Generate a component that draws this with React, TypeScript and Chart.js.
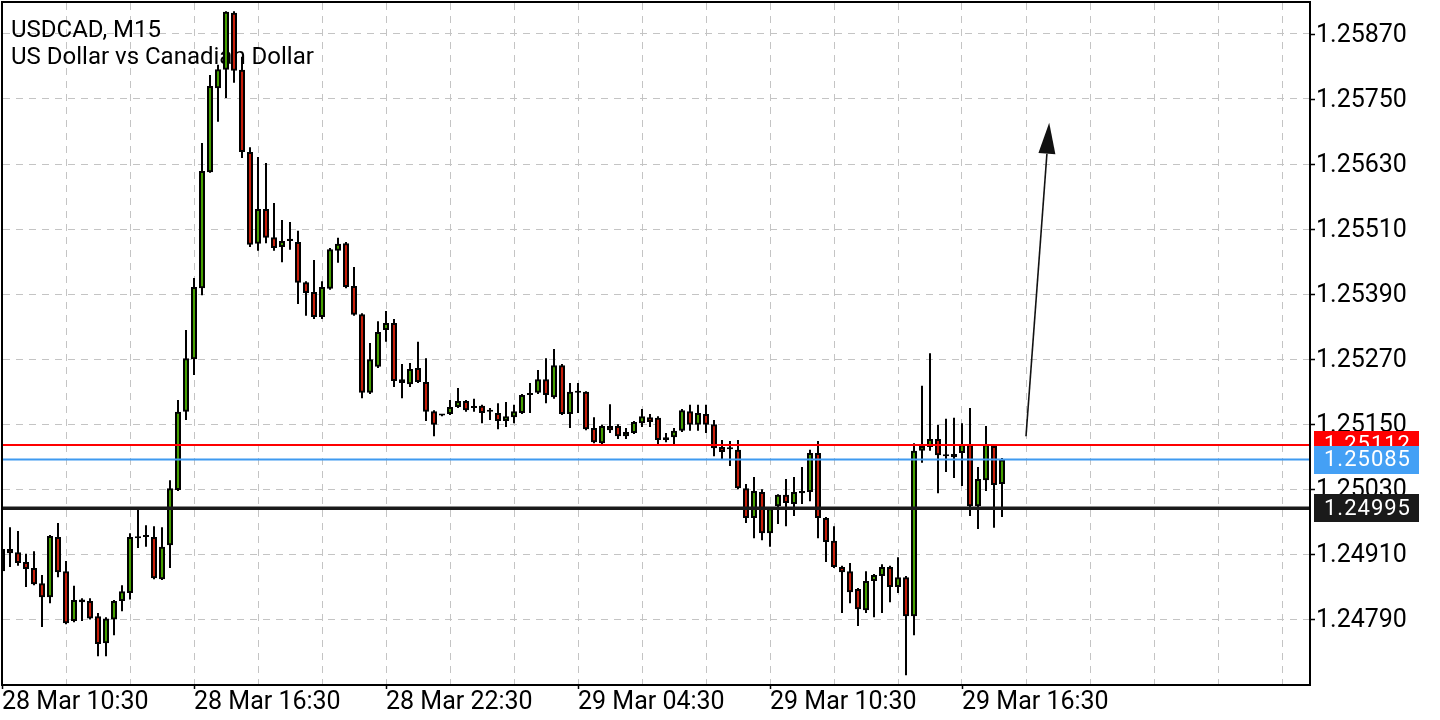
import React, { useEffect, useRef } from 'react';
import { Chart, registerables } from 'chart.js';

Chart.register(...registerables);

// ---- text ----
const symbolTitle = 'USDCAD, M15';
const symbolDesc = 'US Dollar vs Canadian Dollar';

// ---- M15 candles (bar index 0 = 28 Mar 10:30) ----
const opens = [
  1.24879, 1.24920, 1.24914, 1.24896, 1.24885, 1.24857, 1.24831, 1.24942, 1.24879, 1.24787,
  1.24827, 1.24824, 1.24796, 1.24746, 1.24790, 1.24824, 1.24839, 1.24942, 1.24942, 1.24942,
  1.24864, 1.24927, 1.25029, 1.25173, 1.25270, 1.25401, 1.25615, 1.25770, 1.25804, 1.25909,
  1.25804, 1.25652, 1.25483, 1.25547, 1.25495, 1.25477, 1.25492, 1.25486, 1.25412, 1.25394,
  1.25348, 1.25400, 1.25470, 1.25484, 1.25405, 1.25353, 1.25208, 1.25256, 1.25324, 1.25337,
  1.25233, 1.25224, 1.25254, 1.25228, 1.25174, 1.25168, 1.25169, 1.25182, 1.25193, 1.25182,
  1.25184, 1.25174, 1.25171, 1.25156, 1.25163, 1.25171, 1.25206, 1.25208, 1.25233, 1.25200,
  1.25259, 1.25169, 1.25210, 1.25210, 1.25143, 1.25115, 1.25147, 1.25147, 1.25128, 1.25134,
  1.25152, 1.25163, 1.25162, 1.25126, 1.25126, 1.25138, 1.25174, 1.25149, 1.25169, 1.25150,
  1.25108, 1.25106, 1.25103, 1.25032, 1.24977, 1.25025, 1.24949, 1.24999, 1.25020, 1.25003,
  1.25027, 1.25025, 1.25097, 1.24977, 1.24935, 1.24887, 1.24879, 1.24846, 1.24807, 1.24861,
  1.24870, 1.24887, 1.24850, 1.24868, 1.24796, 1.25101, 1.25108, 1.25123, 1.25093, 1.25089,
  1.25097, 1.25113, 1.24999, 1.25047, 1.25110, 1.25040,
];
const highs = [
  1.24925, 1.24960, 1.24953, 1.24911, 1.24916, 1.24872, 1.24946, 1.24968, 1.24898, 1.24852,
  1.24829, 1.24829, 1.24802, 1.24794, 1.24826, 1.24853, 1.24949, 1.24992, 1.24964, 1.24962,
  1.24960, 1.25047, 1.25195, 1.25324, 1.25420, 1.25669, 1.25794, 1.25813, 1.25912, 1.25912,
  1.25828, 1.25661, 1.25643, 1.25632, 1.25558, 1.25527, 1.25523, 1.25507, 1.25414, 1.25453,
  1.25414, 1.25475, 1.25494, 1.25486, 1.25440, 1.25355, 1.25300, 1.25340, 1.25359, 1.25344,
  1.25261, 1.25263, 1.25302, 1.25272, 1.25176, 1.25169, 1.25195, 1.25217, 1.25195, 1.25197,
  1.25186, 1.25180, 1.25189, 1.25191, 1.25186, 1.25206, 1.25226, 1.25250, 1.25272, 1.25289,
  1.25261, 1.25226, 1.25226, 1.25211, 1.25163, 1.25149, 1.25187, 1.25150, 1.25143, 1.25156,
  1.25178, 1.25169, 1.25165, 1.25134, 1.25143, 1.25178, 1.25186, 1.25186, 1.25186, 1.25158,
  1.25121, 1.25119, 1.25121, 1.25040, 1.25053, 1.25030, 1.24997, 1.25021, 1.25049, 1.25053,
  1.25071, 1.25103, 1.25119, 1.24979, 1.24962, 1.24889, 1.24894, 1.24848, 1.24879, 1.24874,
  1.24892, 1.24889, 1.24905, 1.24870, 1.25115, 1.25221, 1.25281, 1.25149, 1.25160, 1.25162,
  1.25152, 1.25180, 1.25071, 1.25147, 1.25112, 1.25088,
];
const lows = [
  1.24874, 1.24887, 1.24889, 1.24850, 1.24853, 1.24776, 1.24820, 1.24868, 1.24781, 1.24785,
  1.24787, 1.24790, 1.24722, 1.24722, 1.24761, 1.24805, 1.24827, 1.24922, 1.24924, 1.24864,
  1.24863, 1.24885, 1.25027, 1.25158, 1.25241, 1.25388, 1.25614, 1.25708, 1.25752, 1.25780,
  1.25641, 1.25477, 1.25470, 1.25484, 1.25470, 1.25449, 1.25472, 1.25372, 1.25350, 1.25344,
  1.25344, 1.25398, 1.25448, 1.25401, 1.25350, 1.25198, 1.25206, 1.25254, 1.25302, 1.25219,
  1.25198, 1.25219, 1.25226, 1.25156, 1.25128, 1.25165, 1.25167, 1.25180, 1.25173, 1.25173,
  1.25152, 1.25158, 1.25141, 1.25145, 1.25152, 1.25169, 1.25171, 1.25206, 1.25189, 1.25197,
  1.25167, 1.25143, 1.25171, 1.25139, 1.25115, 1.25113, 1.25134, 1.25123, 1.25123, 1.25132,
  1.25145, 1.25145, 1.25112, 1.25117, 1.25112, 1.25136, 1.25138, 1.25138, 1.25134, 1.25091,
  1.25086, 1.25073, 1.25030, 1.24968, 1.24940, 1.24936, 1.24924, 1.24966, 1.24962, 1.24981,
  1.25003, 1.25008, 1.24940, 1.24896, 1.24885, 1.24802, 1.24820, 1.24778, 1.24802, 1.24794,
  1.24802, 1.24822, 1.24839, 1.24687, 1.24761, 1.25079, 1.25101, 1.25023, 1.25062, 1.25051,
  1.25036, 1.24981, 1.24957, 1.25027, 1.24959, 1.24979,
];
const closes = [
  1.24920, 1.24912, 1.24894, 1.24883, 1.24855, 1.24831, 1.24944, 1.24877, 1.24783, 1.24826,
  1.24822, 1.24792, 1.24745, 1.24792, 1.24824, 1.24842, 1.24942, 1.24940, 1.24942, 1.24866,
  1.24924, 1.25032, 1.25173, 1.25272, 1.25403, 1.25617, 1.25774, 1.25805, 1.25911, 1.25802,
  1.25652, 1.25481, 1.25547, 1.25494, 1.25475, 1.25488, 1.25488, 1.25411, 1.25392, 1.25348,
  1.25403, 1.25473, 1.25483, 1.25403, 1.25352, 1.25208, 1.25270, 1.25320, 1.25337, 1.25230,
  1.25226, 1.25252, 1.25228, 1.25173, 1.25149, 1.25166, 1.25182, 1.25193, 1.25176, 1.25180,
  1.25171, 1.25173, 1.25156, 1.25165, 1.25174, 1.25204, 1.25204, 1.25233, 1.25204, 1.25259,
  1.25169, 1.25210, 1.25208, 1.25141, 1.25117, 1.25147, 1.25139, 1.25128, 1.25136, 1.25154,
  1.25165, 1.25154, 1.25121, 1.25121, 1.25138, 1.25176, 1.25149, 1.25171, 1.25149, 1.25106,
  1.25099, 1.25104, 1.25032, 1.24977, 1.25027, 1.24949, 1.24995, 1.25020, 1.25005, 1.25025,
  1.25023, 1.25097, 1.24977, 1.24933, 1.24887, 1.24877, 1.24840, 1.24809, 1.24861, 1.24872,
  1.24887, 1.24850, 1.24868, 1.24796, 1.25101, 1.25110, 1.25123, 1.25093, 1.25091, 1.25095,
  1.25113, 1.24999, 1.25049, 1.25113, 1.25038, 1.25085,
];

// ---- axes ----
const priceTicks = [1.24790, 1.24910, 1.25030, 1.25150, 1.25270, 1.25390, 1.25510, 1.25630, 1.25750, 1.25870];
const timeTickIdx = [0, 24, 48, 72, 96, 120];
const timeTickLabels = ['28 Mar 10:30', '28 Mar 16:30', '28 Mar 22:30', '29 Mar 04:30', '29 Mar 10:30', '29 Mar 16:30'];
const gridStepBars = 8;

// ---- price levels ----
const askPrice = 1.25112;
const bidPrice = 1.25085;
const levelPrice = 1.24995;

// ---- arrow annotation (bar index, price) ----
const arrowFrom = [128, 1.25128];
const arrowTo = [130.9, 1.25706];

// ---- view ----
const X_MIN = 0.125;
const X_MAX = 163.375;
const Y_MIN = 1.24671;
const Y_MAX = 1.25927;

const GREEN = '#46a000';
const RED = '#c81e0a';
const GRID = '#c4c4c4';
const FONT = 'Roboto';

const overlayPlugin = {
  id: 'mtOverlay',
  beforeDatasetsDraw(chart: any) {
    const { ctx, chartArea } = chart;
    ctx.save();
    ctx.fillStyle = '#000';
    ctx.font = `24px ${FONT}`;
    ctx.textAlign = 'left';
    ctx.textBaseline = 'alphabetic';
    ctx.fillText(symbolTitle, chartArea.left + 8, chartArea.top + 34);
    ctx.fillText(symbolDesc, chartArea.left + 8, chartArea.top + 61);
    ctx.restore();
  },
  afterDatasetsDraw(chart: any) {
    const { ctx, chartArea } = chart;
    const xs = chart.scales.x;
    const ys = chart.scales.y;
    const { left, right, top, bottom } = chartArea;
    ctx.save();
    const hline = (p: number, color: string, w: number) => {
      const y = ys.getPixelForValue(p);
      ctx.beginPath();
      ctx.strokeStyle = color;
      ctx.lineWidth = w;
      ctx.moveTo(left, y);
      ctx.lineTo(right, y);
      ctx.stroke();
    };
    hline(askPrice, '#ff0000', 2);
    hline(bidPrice, '#3f9af0', 2);
    hline(levelPrice, '#1a1a1a', 3.5);

    const x1 = xs.getPixelForValue(arrowFrom[0]);
    const y1 = ys.getPixelForValue(arrowFrom[1]);
    const x2 = xs.getPixelForValue(arrowTo[0]);
    const y2 = ys.getPixelForValue(arrowTo[1]);
    const ang = Math.atan2(y2 - y1, x2 - x1);
    const headLen = 31;
    const headW = 8.5;
    const bx = x2 - headLen * Math.cos(ang);
    const by = y2 - headLen * Math.sin(ang);
    ctx.strokeStyle = '#111';
    ctx.fillStyle = '#111';
    ctx.lineWidth = 1.6;
    ctx.beginPath();
    ctx.moveTo(x1, y1);
    ctx.lineTo(bx, by);
    ctx.stroke();
    ctx.beginPath();
    ctx.moveTo(x2, y2);
    ctx.lineTo(bx + headW * Math.sin(ang), by - headW * Math.cos(ang));
    ctx.lineTo(bx - headW * Math.sin(ang), by + headW * Math.cos(ang));
    ctx.closePath();
    ctx.fill();

    ctx.strokeStyle = '#000';
    ctx.lineWidth = 2;
    ctx.strokeRect(left - 1, top - 1, right - left + 2, bottom - top + 2);

    ctx.lineWidth = 1.5;
    ctx.beginPath();
    priceTicks.forEach((p) => {
      const y = Math.round(ys.getPixelForValue(p)) + 0.5;
      ctx.moveTo(right + 1, y);
      ctx.lineTo(right + 6, y);
    });
    timeTickIdx.forEach((i) => {
      const x = Math.round(xs.getPixelForValue(i)) + 0.5;
      ctx.moveTo(x, bottom + 1);
      ctx.lineTo(x, bottom + 5);
    });
    ctx.stroke();
    ctx.restore();
  },
  afterDraw(chart: any) {
    const { ctx, chartArea } = chart;
    const ys = chart.scales.y;
    ctx.save();
    ctx.font = `22px ${FONT}`;
    (ctx as any).letterSpacing = '1px';
    ctx.textAlign = 'left';
    ctx.textBaseline = 'middle';
    const tag = (p: number, bg: string) => {
      const y = ys.getPixelForValue(p);
      ctx.fillStyle = bg;
      ctx.fillRect(chartArea.right + 5, Math.round(y - 14), 105, 28);
      ctx.fillStyle = '#fff';
      ctx.fillText(p.toFixed(5), chartArea.right + 15, y + 1);
    };
    tag(askPrice, '#ff0000');
    tag(bidPrice, '#44a0f5');
    tag(levelPrice, '#1a1a1a');
    ctx.restore();
  },
};

export default function App() {
  const ref = useRef<HTMLCanvasElement | null>(null);

  useEffect(() => {
    const canvas = ref.current;
    if (!canvas) return;
    const bodyColors = closes.map((c, i) => (c >= opens[i] ? GREEN : RED));
    const chart = new Chart(canvas, {
      type: 'bar',
      data: {
        datasets: [
          {
            label: 'wicks',
            data: lows.map((l, i) => ({ x: i, y: [l, highs[i]] })) as any,
            backgroundColor: '#000',
            borderWidth: 0,
            grouped: false,
            categoryPercentage: 1,
            barPercentage: 1,
            maxBarThickness: 2,
            inflateAmount: 0,
            order: 2,
          } as any,
          {
            label: 'bodies',
            data: opens.map((o, i) => ({ x: i, y: [o, closes[i]] })) as any,
            backgroundColor: bodyColors,
            borderColor: '#000',
            borderWidth: 2,
            borderSkipped: false,
            grouped: false,
            categoryPercentage: 1,
            barPercentage: 1,
            maxBarThickness: 6,
            minBarLength: 2,
            inflateAmount: 0,
            order: 1,
          } as any,
        ],
      },
      options: {
        responsive: false,
        animation: false,
        devicePixelRatio: 1,
        events: [],
        layout: { padding: { left: 3, top: 3, right: 0, bottom: 0 }, autoPadding: false },
        plugins: { legend: { display: false }, tooltip: { enabled: false } },
        scales: {
          x: {
            type: 'linear',
            position: 'bottom',
            min: X_MIN,
            max: X_MAX,
            offset: false,
            grid: { color: GRID, lineWidth: 1, drawTicks: false, offset: false },
            border: { display: false, dash: [7, 6] },
            ticks: {
              autoSkip: false,
              maxRotation: 0,
              minRotation: 0,
              align: 'start',
              padding: 4,
              color: '#000',
              font: { family: FONT, size: 25 },
              callback: (v: any) => {
                const k = timeTickIdx.indexOf(Number(v));
                return k >= 0 ? timeTickLabels[k] : '';
              },
            },
            afterBuildTicks: (s: any) => {
              const t: any[] = [];
              for (let v = 0; v <= X_MAX; v += gridStepBars) t.push({ value: v });
              s.ticks = t;
            },
            afterFit: (s: any) => {
              s.height = 36;
              s.paddingLeft = 0;
              s.paddingRight = 0;
              s.paddingTop = 0;
              s.paddingBottom = 0;
            },
          },
          y: {
            type: 'linear',
            position: 'right',
            min: Y_MIN,
            max: Y_MAX,
            bounds: 'data',
            grid: { color: GRID, lineWidth: 1, drawTicks: false },
            border: { display: false, dash: [7, 6] },
            ticks: {
              padding: 7,
              labelOffset: 1.5,
              color: '#000',
              font: { family: FONT, size: 25 },
              callback: (v: any) => Number(v).toFixed(5),
            },
            afterBuildTicks: (s: any) => {
              s.ticks = priceTicks.map((v) => ({ value: v }));
            },
            afterFit: (s: any) => {
              s.width = 131;
              s.paddingLeft = 0;
              s.paddingRight = 0;
              s.paddingTop = 0;
              s.paddingBottom = 0;
            },
          },
        } as any,
      } as any,
      plugins: [overlayPlugin],
    });
    return () => chart.destroy();
  }, []);

  return (
    <div style={{ position: 'fixed', left: 0, top: 0, width: 1440, height: 720, background: '#fff' }}>
      <canvas ref={ref} width={1440} height={720} style={{ display: 'block', width: 1440, height: 720 }} />
    </div>
  );
}
